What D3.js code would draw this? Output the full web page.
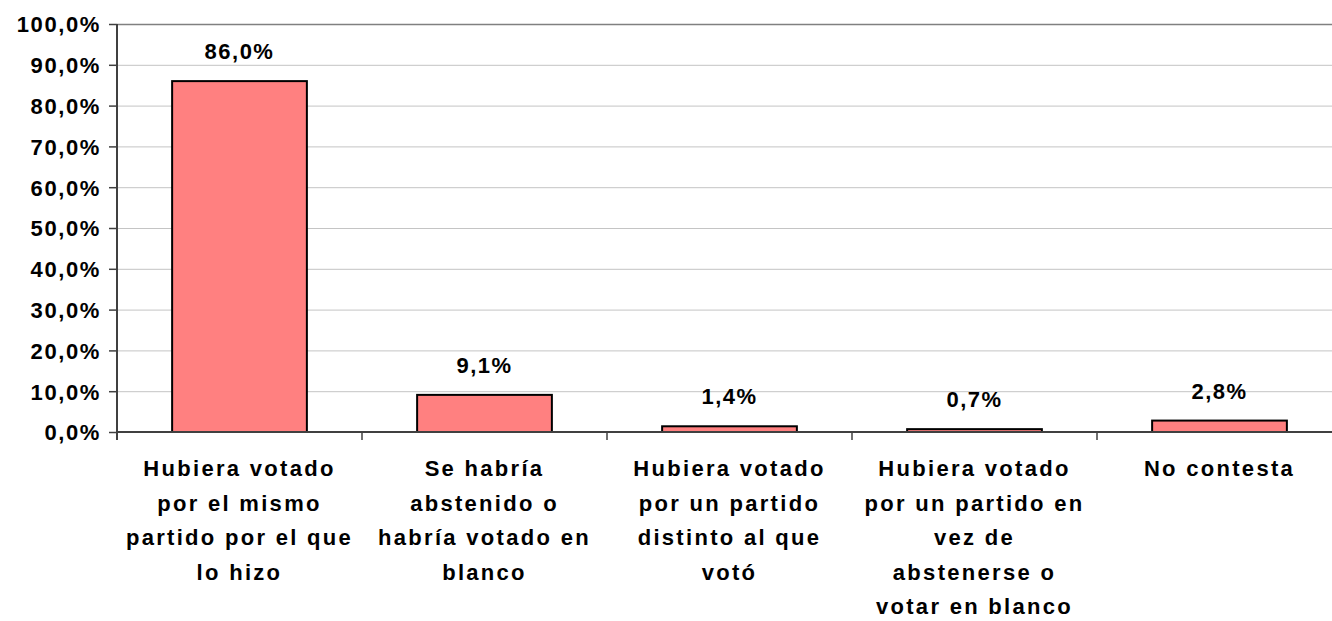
<!DOCTYPE html>
<html>
<head>
<meta charset="utf-8">
<script src="https://cdn.jsdelivr.net/npm/d3@7"></script>
<style>
  html, body { margin: 0; padding: 0; background: #fff; }
  svg { display: block; }
  text { font-family: "Liberation Sans", Arial, sans-serif; font-weight: bold; fill: #000; }
</style>
</head>
<body>
<svg id="chart" width="1332" height="621"></svg>
<script>
const categories = [
  "Hubiera votado\npor el mismo\npartido por el que\nlo hizo",
  "Se habría\nabstenido o\nhabría votado en\nblanco",
  "Hubiera votado\npor un partido\ndistinto al que\nvotó",
  "Hubiera votado\npor un partido en\nvez de\nabstenerse o\nvotar en blanco",
  "No contesta"
];
const values = [86.0, 9.1, 1.4, 0.7, 2.8];
const yTicks = [0, 10, 20, 30, 40, 50, 60, 70, 80, 90, 100];

const locale = d3.formatLocale({decimal: ",", thousands: ".", grouping: [3], currency: ["", "€"]});
const fmt = v => locale.format(".1f")(v) + "%";

const svg = d3.select("#chart");
const pLeft = 117, pRight = 1342, pTop = 24, pBottom = 432;

const x = d3.scaleBand().domain(categories).range([pLeft, pRight]).paddingInner(0).paddingOuter(0);
const y = d3.scaleLinear().domain([0, 100]).range([pBottom, pTop]);

// gridlines
svg.append("g").selectAll("line").data(yTicks.filter(d => d > 0)).join("line")
  .attr("x1", pLeft).attr("x2", pRight)
  .attr("y1", d => y(d) + 0.5).attr("y2", d => y(d) + 0.5)
  .attr("stroke", d => d === 100 ? "#808080" : "#c4c4c4")
  .attr("stroke-width", d => d === 100 ? 1.5 : 1);

// y axis
const yAxis = d3.axisLeft(y).tickValues(yTicks).tickSize(8).tickPadding(8).tickFormat(fmt);
const gy = svg.append("g").attr("transform", `translate(${pLeft},0)`).call(yAxis);
gy.select(".domain").attr("stroke", "#404040").attr("stroke-width", 2).attr("d", `M0,${pTop}V${pBottom + 8}`);
gy.selectAll(".tick line").attr("stroke", "#404040").attr("stroke-width", 1.5);
gy.selectAll(".tick text")
  .style("font-family", '"Liberation Sans", Arial, sans-serif')
  .style("font-weight", "bold").style("font-size", "22px").style("letter-spacing", "1.6px")
  .attr("fill", "#000").attr("dy", "0.36em");

// bars
const bw = x.bandwidth() * 0.55;
svg.append("g").selectAll("rect").data(values).join("rect")
  .attr("x", (d, i) => x(categories[i]) + (x.bandwidth() - bw) / 2)
  .attr("y", d => y(d))
  .attr("width", bw)
  .attr("height", d => pBottom - y(d))
  .attr("fill", "#FF8080")
  .attr("stroke", "#000")
  .attr("stroke-width", 2);

// x axis line + ticks at band boundaries
svg.append("line").attr("x1", pLeft).attr("x2", pRight).attr("y1", pBottom).attr("y2", pBottom)
  .attr("stroke", "#404040").attr("stroke-width", 2);
svg.append("g").selectAll("line").data(categories.slice(1)).join("line")
  .attr("x1", d => x(d)).attr("x2", d => x(d))
  .attr("y1", pBottom).attr("y2", pBottom + 8)
  .attr("stroke", "#404040").attr("stroke-width", 1.5);

// value labels
svg.append("g").selectAll("text").data(values).join("text")
  .attr("x", (d, i) => x(categories[i]) + x.bandwidth() / 2)
  .attr("y", d => y(d) - 22)
  .attr("text-anchor", "middle")
  .style("font-size", "22px").style("letter-spacing", "1.5px")
  .text(d => fmt(d));

// category labels
const lab = svg.append("g").selectAll("text").data(categories).join("text")
  .attr("x", d => x(d) + x.bandwidth() / 2)
  .attr("y", 476)
  .attr("text-anchor", "middle")
  .style("font-size", "22px").style("letter-spacing", "2.3px");
lab.each(function(d) {
  const t = d3.select(this);
  d.split("\n").forEach((line, i) => {
    t.append("tspan").attr("x", x(d) + x.bandwidth() / 2).attr("y", 476 + i * 34.6).text(line);
  });
});
</script>
</body>
</html>
